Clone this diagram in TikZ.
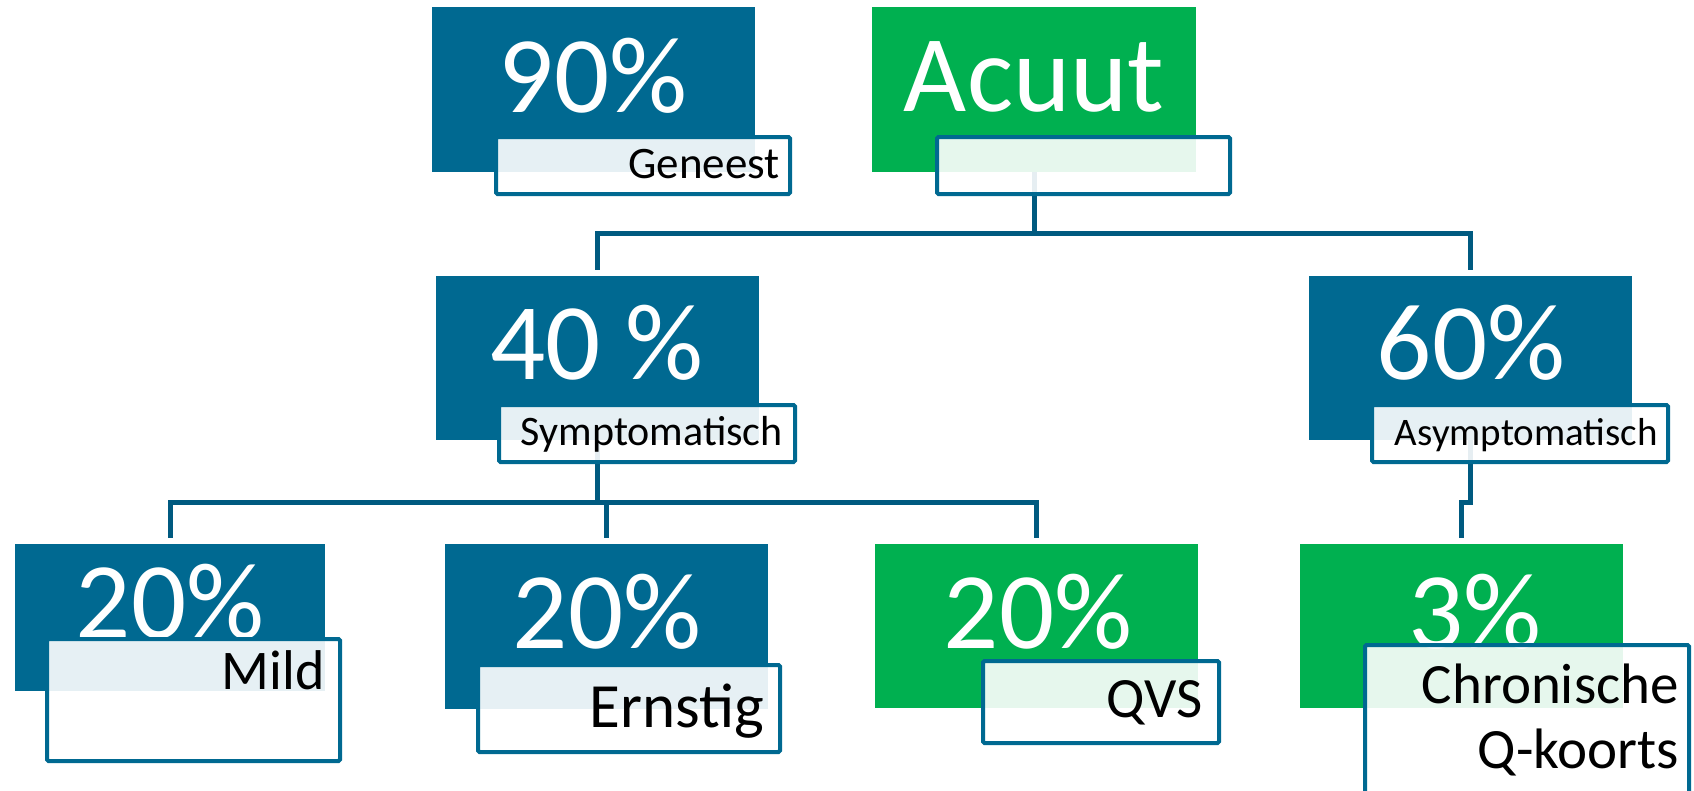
\documentclass[tikz,border=0pt]{standalone}
\usepackage{fontspec}
\setmainfont{Carlito}
\definecolor{qblue}{HTML}{006991}
\definecolor{qline}{HTML}{005A80}
\definecolor{qgreen}{HTML}{00B050}
\tikzset{
  box/.style={rectangle, inner sep=0pt, outer sep=0pt, draw=none, anchor=north west},
  bluebox/.style={box, fill=qblue},
  greenbox/.style={box, fill=qgreen},
  lbl/.style={rectangle, inner sep=0pt, outer sep=0pt, anchor=north west, draw=qblue, line width=4pt, fill=white, fill opacity=0.9, rounded corners=1.5pt},
  conn/.style={draw=qline, line width=5pt},
  big/.style={text=white, inner sep=0pt, anchor=base, font=\fontsize{109}{109}\selectfont},
  small/.style={text=black, inner sep=0pt, anchor=base east, font=\fontsize{#1}{#1}\selectfont},
}
\begin{document}
\begin{tikzpicture}[x=1pt,y=-1pt]
\useasboundingbox (0,0) rectangle (1694,790);
% boxes
\node[bluebox, minimum width=323pt, minimum height=165pt] (b90) at (432,7) {};
\node[greenbox, minimum width=324pt, minimum height=165pt] (bAcuut) at (872,7) {};
\node[bluebox, minimum width=323pt, minimum height=164pt] (b40) at (436,276) {};
\node[bluebox, minimum width=323pt, minimum height=164pt] (b60) at (1309,276) {};
\node[bluebox, minimum width=310pt, minimum height=147pt] (bMild) at (15,544) {};
\node[bluebox, minimum width=323pt, minimum height=165pt] (bErn) at (445,544) {};
\node[greenbox, minimum width=323pt, minimum height=164pt] (bQVS) at (875,544) {};
\node[greenbox, minimum width=323pt, minimum height=164pt] (b3) at (1300,544) {};
% big texts
\node[big] (t90) at (593,112) {90\%};
\node[big] (tAcuut) at (1034,111) {Acuut};
\node[big] (t40) at (597,379) {40 \%};
\node[big] (t60) at (1471,379) {60\%};
\node[big] (tMild) at (170,638) {20\%};
\node[big] (tErn) at (607,648) {20\%};
\node[big] (tQVS) at (1038,648) {20\%};
\node[big] (t3) at (1475,648) {3\%};
% connectors
\coordinate (hTop) at (0,233);
\coordinate (hMid) at (0,502);
\draw[conn, shorten >=6pt] (bAcuut.south) -- (bAcuut.south |- hTop) -| (b40.north);
\draw[conn, shorten >=6pt] (bAcuut.south |- hTop) -| (b60.north);
\draw[conn, shorten >=6pt] (b40.south) -- (b40.south |- hMid) -| (bMild.north);
\draw[conn, shorten >=6pt] (b40.south |- hMid) -| (bQVS.north);
\draw[conn, shorten >=6pt] (bErn.north |- hMid) -- (bErn.north);
\draw[conn, shorten >=6pt] (b60.south) -- (b60.south |- hMid) -- (b3.north |- hMid) -- (b3.north);
% labels
\node[lbl, minimum width=294pt, minimum height=57pt] (l90) at (496,137) {};
\node[lbl, minimum width=293pt, minimum height=57pt] (lAcuut) at (937,137) {};
\node[lbl, minimum width=296pt, minimum height=57pt] (lSym) at (499,405) {};
\node[lbl, minimum width=296pt, minimum height=57pt] (lAsym) at (1372,405) {};
\node[lbl, minimum width=293pt, minimum height=122pt] (lMild) at (47,639) {};
\node[lbl, minimum width=302pt, minimum height=87pt] (lErn) at (478,665) {};
\node[lbl, minimum width=236pt, minimum height=82pt] (lQVS) at (983,661) {};
\node[lbl, minimum width=324pt, minimum height=170pt] (lChr) at (1365,645) {};
% label texts
\node[small=45] (sGen) at (780,178) {Geneest};
\node[small=42] (sSym) at (783,445) {Symptomatisch};
\node[small=39] (sAsym) at (1658,445) {Asymptomatisch};
\node[small=56] (sMild) at (325,689) {Mild};
\node[small=63] (sErn) at (764,727) {Ernstig};
\node[small=57] (sQVS) at (1203,717) {QVS};
\node[small=57] (sChr1) at (1679,703) {Chronische};
\node[small=57] (sChr2) at (1679,768) {Q-koorts};
\end{tikzpicture}
\end{document}
